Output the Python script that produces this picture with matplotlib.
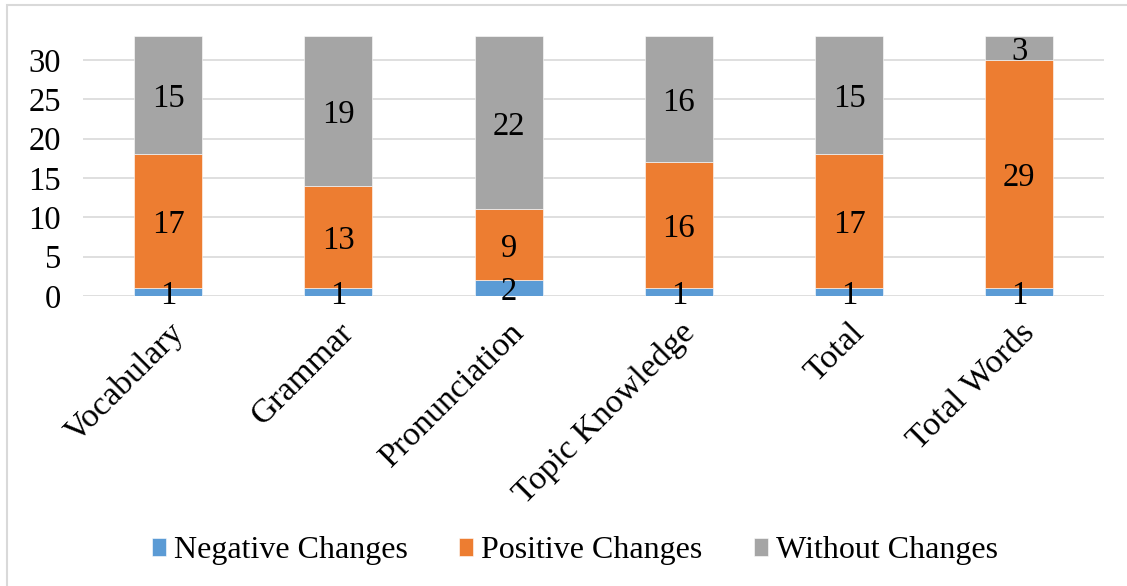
import numpy as np
import matplotlib.pyplot as plt
from matplotlib.patches import Rectangle

# categories and counts per change type
categories = ["Vocabulary", "Grammar", "Pronunciation", "Topic Knowledge", "Total", "Total Words"]
negative = [1, 1, 2, 1, 1, 1]
positive = [17, 13, 9, 16, 17, 29]
without = [15, 19, 22, 16, 15, 3]

series = [
    ("Negative Changes", negative, "#5B9BD5"),
    ("Positive Changes", positive, "#ED7D31"),
    ("Without Changes", without, "#A5A5A5"),
]

plt.rcParams["font.family"] = ["Liberation Serif", "DejaVu Serif"]

fig = plt.figure(figsize=(11.27, 5.86), dpi=100)
ax = fig.add_axes([0.0737, 0.4949, 0.9063, 0.4431])

x = np.arange(len(categories))
bottom = np.zeros(len(categories))
for name, vals, color in series:
    vals = np.array(vals, dtype=float)
    ax.bar(x, vals, 0.4, bottom=bottom, color=color, label=name,
           edgecolor="white", linewidth=0.4, zorder=3)
    for xi, b, v in zip(x, bottom, vals):
        ax.text(xi, b + v / 2, f"{int(v)}", ha="center", va="center_baseline",
                fontsize=23.5, color="black", zorder=4)
    bottom += vals

ax.set_xlim(-0.5, len(categories) - 0.5)
ax.set_ylim(0, 33)
ax.set_yticks(range(0, 31, 5))
ax.yaxis.grid(True, color="#D9D9D9", linewidth=1.2, zorder=0)
ax.set_axisbelow(True)
for s in ax.spines.values():
    s.set_visible(False)
ax.tick_params(axis="both", length=0, labelsize=23.5)
ax.tick_params(axis="y", pad=16)
ax.set_xticks(x)
ax.set_xticklabels(categories, rotation=45, ha="right", rotation_mode="anchor",
                   fontsize=24.5)
ax.tick_params(axis="x", pad=15)

fig.legend(loc="center", bbox_to_anchor=(0.51, 0.06), ncol=3, frameon=False,
           fontsize=23, handlelength=0.45, handleheight=0.45, handletextpad=0.25,
           columnspacing=1.6)

# outer frame
fig.patches.append(Rectangle((7 / 1127, -0.1), 1.2, 1 - 5 / 586 + 0.1,
                             transform=fig.transFigure, fill=False,
                             edgecolor="#D9D9D9", linewidth=1.5))

fig.savefig("out.png", dpi=100)
